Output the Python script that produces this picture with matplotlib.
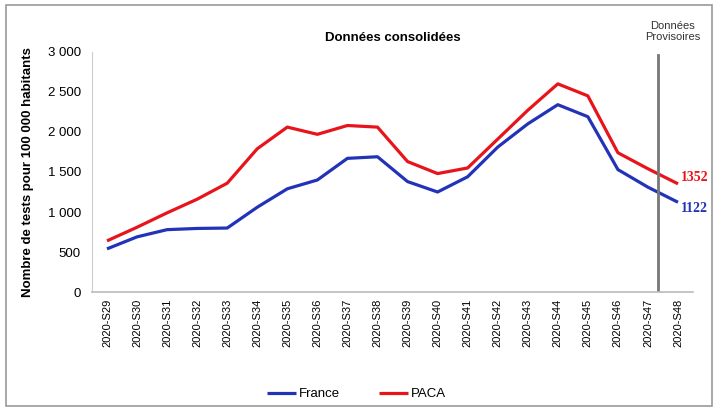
import numpy as np
import matplotlib
matplotlib.use('Agg')
from matplotlib import pyplot as plt
from matplotlib.patches import Rectangle
from matplotlib.ticker import FuncFormatter

weeks = ['2020-S%d' % w for w in range(29, 49)]
france = [540, 690, 780, 795, 800, 1060, 1290, 1400, 1670, 1690,
          1380, 1250, 1440, 1810, 2100, 2340, 2190, 1530, 1310, 1122]
paca = [640, 810, 990, 1160, 1360, 1790, 2060, 1970, 2080, 2060,
        1630, 1480, 1550, 1910, 2270, 2600, 2450, 1740, 1540, 1352]

blue = '#2233b8'
red = '#e8141c'

plt.rcParams['font.family'] = ['Liberation Sans', 'DejaVu Sans']

fig = plt.figure(figsize=(7.13, 4.08), dpi=100)
ax = fig.add_axes([0.129, 0.284, 0.843, 0.589])

x = np.arange(len(weeks))
ax.plot(x, france, color=blue, lw=2.3, label='France', solid_capstyle='butt')
ax.plot(x, paca, color=red, lw=2.3, label='PACA', solid_capstyle='butt')

ax.set_xlim(-0.5, len(weeks) - 0.5)
ax.set_ylim(0, 3000)
ax.set_yticks(range(0, 3001, 500))
ax.yaxis.set_major_formatter(FuncFormatter(lambda v, p: '{:,}'.format(int(v)).replace(',', ' ')))
ax.set_xticks(x)
ax.set_xticklabels(weeks, rotation=90, fontsize=8)
ax.tick_params(axis='y', labelsize=9.5, length=0, pad=8)
ax.tick_params(axis='x', length=0, pad=5)
for s in ['top', 'right']:
    ax.spines[s].set_visible(False)
ax.spines['left'].set_color('#cccccc')
ax.spines['bottom'].set_color('#bbbbbb')
ax.spines['bottom'].set_linewidth(1.2)

ax.set_ylabel('Nombre de tests pour 100 000 habitants', fontsize=9.5, fontweight='bold', labelpad=10)
ax.set_title('Données consolidées', fontsize=9.5, fontweight='bold', pad=8)

# provisional data separator
ax.axvline(18.33, ymin=0, ymax=0.985, color='#777777', lw=2)
ax.text(18.83, 3120, 'Données\nProvisoires', ha='center', va='bottom', fontsize=8, color='#333333',
        linespacing=1.1, clip_on=False)

ax.text(19.1, paca[-1], str(paca[-1]), color=red, fontsize=10, fontweight='bold',
        family='Liberation Serif', va='bottom', ha='left', clip_on=False)
ax.text(19.1, france[-1], str(france[-1]), color=blue, fontsize=10, fontweight='bold',
        family='Liberation Serif', va='top', ha='left', clip_on=False)

fig.legend(loc='lower center', bbox_to_anchor=(0.5, -0.01), ncol=2, frameon=False,
           fontsize=9.5, handlelength=2.2, handletextpad=0.2, columnspacing=3)

fig.add_artist(Rectangle((0.008, 0.005), 0.99, 0.982, transform=fig.transFigure,
                         fill=False, edgecolor='#999999', lw=1.2))

fig.savefig('out.png', dpi=100)
